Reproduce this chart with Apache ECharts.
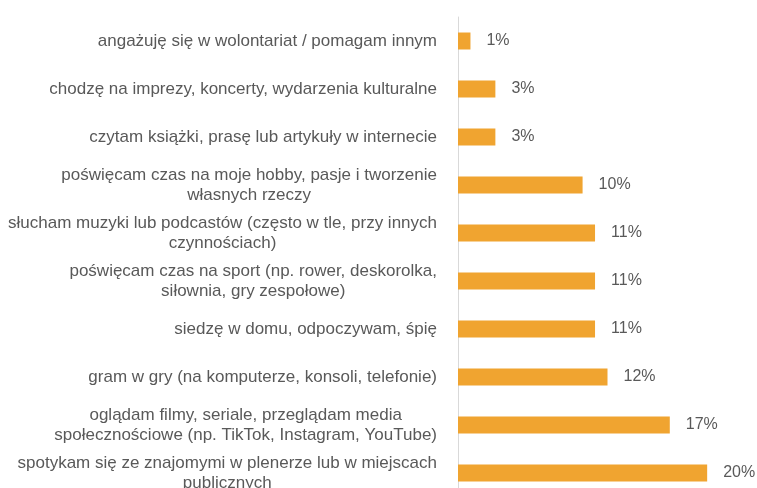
<!DOCTYPE html>
<html>
<head>
<meta charset="utf-8">
<script src="https://cdn.jsdelivr.net/npm/echarts@6/dist/echarts.min.js"></script>
<style>
  html, body { margin: 0; padding: 0; background: #fff; }
  #chart { width: 757px; height: 488px; }
</style>
</head>
<body>
<div id="chart"></div>
<script>
var categories = [
  'angażuję się w wolontariat / pomagam innym',
  'chodzę na imprezy, koncerty, wydarzenia kulturalne',
  'czytam książki, prasę lub artykuły w internecie',
  'poświęcam czas na moje hobby, pasje i tworzenie\nwłasnych rzeczy',
  'słucham muzyki lub podcastów (często w tle, przy innych\nczynnościach)',
  'poświęcam czas na sport (np. rower, deskorolka,\nsiłownia, gry zespołowe)',
  'siedzę w domu, odpoczywam, śpię',
  'gram w gry (na komputerze, konsoli, telefonie)',
  'oglądam filmy, seriale, przeglądam media\nspołecznościowe (np. TikTok, Instagram, YouTube)',
  'spotykam się ze znajomymi w plenerze lub w miejscach\npublicznych'
];
var values = [1, 3, 3, 10, 11, 11, 11, 12, 17, 20];

var myChart = echarts.init(document.getElementById('chart'));

var option = {
  animation: false,
  textStyle: { fontFamily: 'Liberation Sans' },
  grid: { left: 458, right: 0, top: 17, bottom: -9, outerBoundsMode: 'none' },
  xAxis: {
    type: 'value',
    min: 0,
    max: 24,
    show: false
  },
  yAxis: {
    type: 'category',
    inverse: true,
    data: categories,
    axisTick: { show: false },
    axisLine: { show: true, lineStyle: { color: '#d9d9d9', width: 1 } },
    axisLabel: {
      margin: 21,
      color: '#595959',
      fontSize: 17,
      lineHeight: 20,
      // kazda linia wysrodkowana w bloku etykiety
      formatter: function (value) {
        return value.split('\n').map(function (l) { return '{c|' + l + '}'; }).join('\n');
      },
      rich: {
        c: { align: 'center', color: '#595959', fontSize: 17, lineHeight: 20 }
      }
    }
  },
  series: [{
    type: 'bar',
    data: values,
    barWidth: 17,
    itemStyle: { color: '#F0A430' },
    label: {
      show: true,
      position: 'right',
      distance: 16,
      color: '#595959',
      fontSize: 16,
      formatter: '{c}%'
    }
  }]
};

myChart.setOption(option);
</script>
</body>
</html>
